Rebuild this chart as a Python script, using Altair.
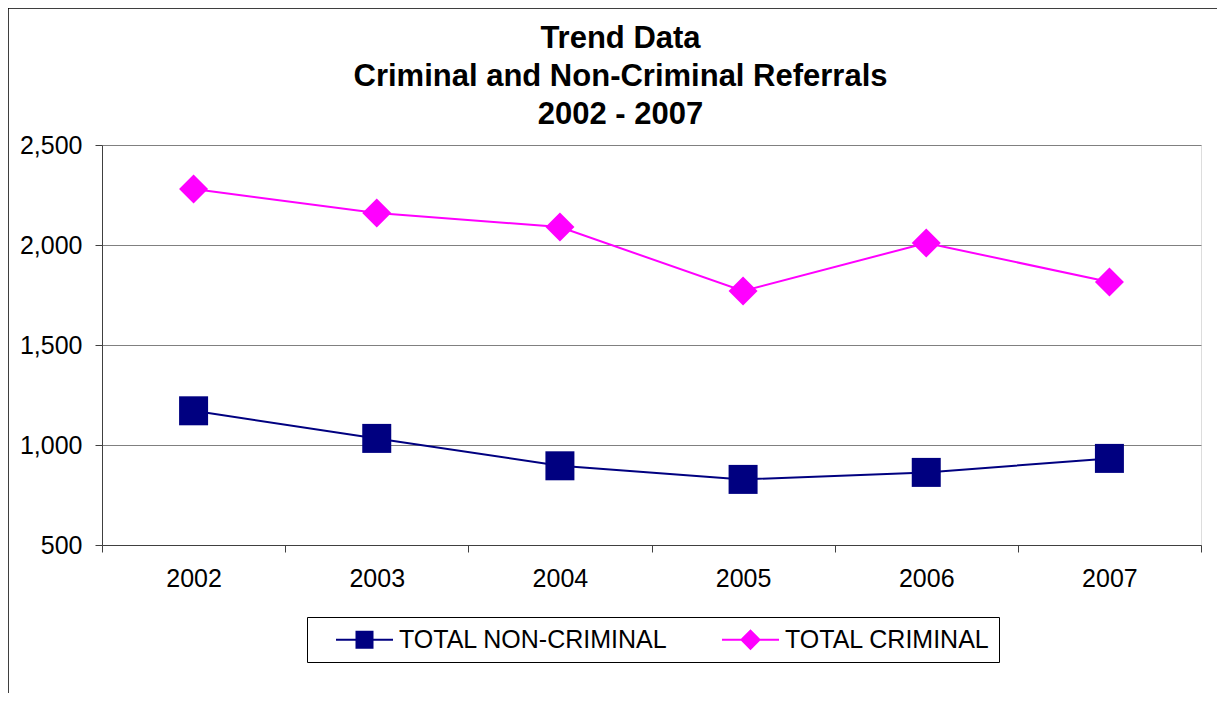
import altair as alt
import pandas as pd

years = ["2002", "2003", "2004", "2005", "2006", "2007"]
non_criminal = [1171, 1033, 896, 828, 863, 933]
criminal = [2280, 2160, 2090, 1770, 2010, 1815]
series_names = ["TOTAL NON-CRIMINAL", "TOTAL CRIMINAL"]
series_colors = ["#000080", "#FF00FF"]
series_shapes = ["square", "diamond"]
y_ticks = [500, 1000, 1500, 2000, 2500]
title_lines = ["Trend Data", "Criminal and Non-Criminal Referrals", "2002 - 2007"]

rows = []
for name, vals in zip(series_names, [non_criminal, criminal]):
    for yr, v in zip(years, vals):
        rows.append({"year": yr, "value": v, "series": name})
df = pd.DataFrame(rows)

FONT = "Liberation Sans"
W, H = 1099, 400

# legend symbols: a line segment with the marker on it
SQ_PATH = "M0.52,0H5.08M2.16,-0.64H3.44V0.64H2.16Z"
DM_PATH = "M0.52,0H5.08M2.08,0L2.8,-0.72L3.52,0L2.8,0.72Z"

x_enc = alt.X(
    "year:O",
    sort=years,
    scale=alt.Scale(type="band", paddingInner=0, paddingOuter=0),
    axis=alt.Axis(
        title=None, labelAngle=0, tickBand="extent", tickSize=7, labelPadding=14,
        labelFontSize=25, labelFont=FONT, labelColor="black",
        domainColor="#404040", tickColor="#404040", grid=False,
    ),
)
y_enc = alt.Y(
    "value:Q",
    scale=alt.Scale(domain=[500, 2500], nice=False, zero=False),
    axis=alt.Axis(
        title=None, values=y_ticks, format=",.0f", tickSize=7, labelPadding=13,
        labelFontSize=25, labelFont=FONT, labelColor="black",
        domainColor="#404040", tickColor="#404040",
        grid=True, gridColor="#808080", gridWidth=1,
    ),
)
legend = alt.Legend(
    title=None, orient="none", legendX=205, legendY=472, direction="horizontal",
    labelFontSize=25, labelFont=FONT, labelColor="black", labelLimit=500,
    labelExpr="datum.index == 1 ? datum.label + '       ' : datum.label",
    strokeColor="black", fillColor="white", padding=9,
    symbolSize=625, symbolStrokeWidth=2, symbolOpacity=1,
    labelOffset=56, columnPadding=34,
)
color_enc = alt.Color(
    "series:N", sort=series_names,
    scale=alt.Scale(domain=series_names, range=series_colors),
    legend=None,
)

frame = alt.Chart(pd.DataFrame({"a": [0]})).mark_rect(
    fillOpacity=0, stroke="black", strokeWidth=1.5
).encode(
    x=alt.value(-94), x2=alt.value(3000), y=alt.value(-137), y2=alt.value(3000)
)

# tiny hidden marks that only carry the legend (line + marker symbols)
legend_layer = alt.Chart(df).mark_point(size=1, strokeWidth=2, opacity=1).encode(
    x=x_enc, y=y_enc,
    fill=alt.Fill("series:N", sort=series_names,
                  scale=alt.Scale(domain=series_names, range=series_colors), legend=legend),
    stroke=alt.Stroke("series:N", sort=series_names,
                      scale=alt.Scale(domain=series_names, range=series_colors), legend=legend),
    shape=alt.Shape("series:N", sort=series_names,
                    scale=alt.Scale(domain=series_names, range=[SQ_PATH, DM_PATH]), legend=legend),
)

lines = alt.Chart(df).mark_line(strokeWidth=2).encode(
    x=x_enc, y=y_enc, color=color_enc, detail="series:N"
)
pts_nc = alt.Chart(df).transform_filter(
    alt.datum.series == series_names[0]
).mark_point(filled=True, size=841, opacity=1, shape=series_shapes[0]).encode(
    x=x_enc, y=y_enc, color=color_enc
)
pts_c = alt.Chart(df).transform_filter(
    alt.datum.series == series_names[1]
).mark_point(filled=True, size=841, opacity=1, shape=series_shapes[1]).encode(
    x=x_enc, y=y_enc, color=color_enc
)

chart = alt.layer(frame, legend_layer, lines, pts_nc, pts_c).properties(
    width=W, height=H,
    title=alt.TitleParams(
        text=title_lines, fontSize=31, font=FONT, fontWeight="bold", lineHeight=38,
        anchor="middle", dx=-31, offset=-124, color="black",
    ),
    autosize=alt.AutoSizeParams(type="none"),
    padding={"left": 94, "top": 137, "right": 16, "bottom": 148},
).configure_view(stroke="#808080", strokeWidth=1).configure(background="white")

chart.save("out.html", embed_options={"renderer": "svg", "actions": False})
